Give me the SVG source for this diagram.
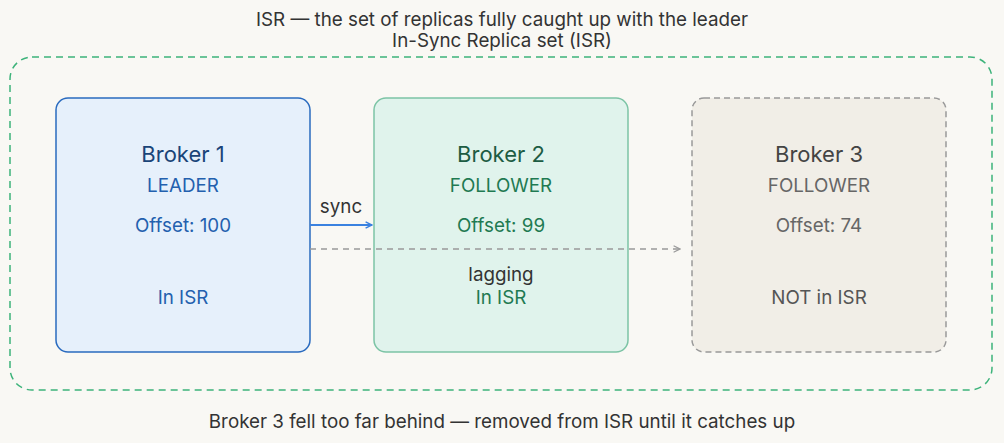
<svg xmlns="http://www.w3.org/2000/svg" width="1004" height="443" viewBox="0 0 1004 443">
<defs>
<style>
text{font-family:Inter,"Noto Sans",sans-serif;text-anchor:middle}
.t{font-size:22px}
.s{font-size:18.8px}
</style>
<marker id="ab" viewBox="0 0 10 10" refX="9" refY="5" markerWidth="8" markerHeight="8" orient="auto" markerUnits="userSpaceOnUse"><path d="M1,1 L9,5 L1,9" fill="none" stroke="#3b82e0" stroke-width="1.8"/></marker>
<marker id="ag" viewBox="0 0 10 10" refX="9" refY="5" markerWidth="8" markerHeight="8" orient="auto" markerUnits="userSpaceOnUse"><path d="M1,1 L9,5 L1,9" fill="none" stroke="#999" stroke-width="1.5"/></marker>
</defs>
<rect width="1004" height="443" fill="#f9f8f4"/>
<text x="502" y="26" class="s" fill="#333">ISR — the set of replicas fully caught up with the leader</text>
<text x="502" y="47" class="s" fill="#333">In-Sync Replica set (ISR)</text>
<rect x="10" y="57" width="982" height="333" rx="22" fill="none" stroke="#3db37a" stroke-width="1.5" stroke-dasharray="7,5"/>
<g id="broker1">
<rect x="56" y="98" width="254" height="254" rx="12" fill="#e6f0fb" stroke="#2a6bbf" stroke-width="1.5"/>
<text x="183" y="162" class="t" fill="#1a4478">Broker 1</text>
<text x="183" y="192" class="s" fill="#2360ae">LEADER</text>
<text x="183" y="232" class="s" fill="#2360ae">Offset: 100</text>
<text x="183" y="304" class="s" fill="#2360ae">In ISR</text>
</g>
<g id="broker2">
<rect x="374" y="98" width="254" height="254" rx="12" fill="#e0f3ec" stroke="#7cc4a5" stroke-width="1.5"/>
<text x="501" y="162" class="t" fill="#1d5c43">Broker 2</text>
<text x="501" y="192" class="s" fill="#1f7a52">FOLLOWER</text>
<text x="501" y="232" class="s" fill="#1f7a52">Offset: 99</text>
<text x="501" y="281" class="s" fill="#333">lagging</text>
<text x="501" y="304" class="s" fill="#1f7a52">In ISR</text>
</g>
<g id="broker3">
<rect x="692" y="98" width="254" height="254" rx="12" fill="#f1eee7" stroke="#999" stroke-width="1.5" stroke-dasharray="6,4"/>
<text x="819" y="162" class="t" fill="#444">Broker 3</text>
<text x="819" y="192" class="s" fill="#666">FOLLOWER</text>
<text x="819" y="232" class="s" fill="#666">Offset: 74</text>
<text x="819" y="304" class="s" fill="#555">NOT in ISR</text>
</g>
<g id="connectors">
<line x1="310" y1="225" x2="372" y2="225" stroke="#3b82e0" stroke-width="2" marker-end="url(#ab)"/>
<text x="341" y="213" class="s" fill="#333">sync</text>
<line x1="310" y1="249" x2="680" y2="249" stroke="#999" stroke-width="1.5" stroke-dasharray="6,5" marker-end="url(#ag)"/>
</g>
<text x="502" y="428" class="s" fill="#333">Broker 3 fell too far behind — removed from ISR until it catches up</text>
</svg>
